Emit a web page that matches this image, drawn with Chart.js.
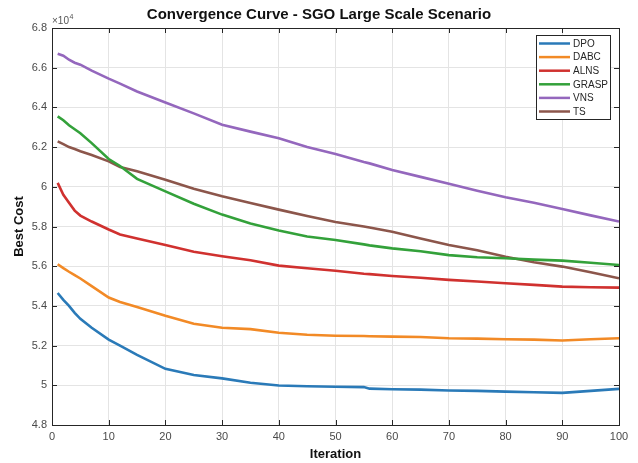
<!DOCTYPE html>
<html>
<head>
<meta charset="utf-8">
<script src="https://cdn.jsdelivr.net/npm/chart.js@4.4.1/dist/chart.umd.min.js"></script>
<style>
  html, body { margin: 0; padding: 0; background: #fff; }
  #wrap { width: 638px; height: 463px; }
</style>
</head>
<body>
<div id="wrap"><canvas id="conv" width="638" height="463"></canvas></div>
<script>
// iterations sampled along the convergence run
const iterations = [1, 2, 3, 4, 5, 7, 10, 12, 15, 20, 25, 30, 35, 40, 45, 50, 55, 56, 60, 65, 70, 75, 80, 85, 90, 95, 100];

// best cost per algorithm at the iterations above
const dpoCost   = [54650, 54300, 54000, 53650, 53350, 52900, 52300, 52000, 51530, 50830, 50520, 50350, 50130, 49990, 49950, 49930, 49910, 49830, 49800, 49780, 49740, 49720, 49680, 49650, 49620, 49720, 49820];
const dabcCost  = [56100, 55900, 55720, 55550, 55380, 55000, 54420, 54200, 53950, 53500, 53100, 52900, 52830, 52650, 52550, 52500, 52480, 52470, 52450, 52430, 52370, 52350, 52320, 52300, 52260, 52320, 52370];
const alnsCost  = [60200, 59600, 59200, 58800, 58550, 58250, 57850, 57600, 57400, 57070, 56730, 56500, 56300, 56030, 55900, 55770, 55620, 55600, 55510, 55420, 55310, 55230, 55140, 55060, 54970, 54940, 54920];
const graspCost = [63550, 63350, 63100, 62900, 62700, 62200, 61400, 61050, 60400, 59770, 59150, 58600, 58150, 57800, 57500, 57320, 57100, 57050, 56900, 56750, 56560, 56450, 56400, 56330, 56280, 56170, 56060];
const vnsCost   = [66700, 66600, 66400, 66250, 66150, 65850, 65450, 65200, 64800, 64250, 63700, 63130, 62780, 62450, 62000, 61650, 61250, 61180, 60850, 60500, 60150, 59800, 59470, 59200, 58880, 58560, 58250];
const tsCost    = [62290, 62150, 62000, 61900, 61790, 61600, 61280, 61000, 60780, 60360, 59900, 59520, 59180, 58850, 58530, 58230, 58000, 57950, 57740, 57400, 57070, 56800, 56480, 56200, 55980, 55700, 55390];

const seriesNames  = ['DPO', 'DABC', 'ALNS', 'GRASP', 'VNS', 'TS'];
const seriesValues = [dpoCost, dabcCost, alnsCost, graspCost, vnsCost, tsCost];
const seriesColors = ['#2a7ab8', '#f28a26', '#d0312f', '#33a13a', '#9467bd', '#8c564b'];

const FONT = '"Liberation Sans", Arial, Helvetica, sans-serif';
const AXIS_DARK = '#262626';

// MATLAB-like box, inward tick marks, exponent label and in-axes legend
const matlabAxes = {
  id: 'matlabAxes',
  afterDraw(chart) {
    const ctx = chart.ctx;
    const { left, right, top, bottom } = chart.chartArea;
    const xs = chart.scales.x, ys = chart.scales.y;
    const tl = 5;
    ctx.save();
    ctx.strokeStyle = AXIS_DARK;
    ctx.lineWidth = 1;
    ctx.beginPath();
    xs.ticks.forEach(t => {
      const px = Math.round(xs.getPixelForValue(t.value)) + 0.5;
      ctx.moveTo(px, bottom); ctx.lineTo(px, bottom - tl);
      ctx.moveTo(px, top); ctx.lineTo(px, top + tl);
    });
    ys.ticks.forEach(t => {
      const py = Math.round(ys.getPixelForValue(t.value)) + 0.5;
      ctx.moveTo(left, py); ctx.lineTo(left + tl, py);
      ctx.moveTo(right, py); ctx.lineTo(right - tl, py);
    });
    ctx.stroke();
    ctx.strokeRect(Math.round(left) + 0.5, Math.round(top) + 0.5, Math.round(right - left), Math.round(bottom - top));

    // exponent of the y axis
    ctx.fillStyle = '#555';
    ctx.textBaseline = 'alphabetic';
    ctx.textAlign = 'left';
    ctx.font = '10px ' + FONT;
    ctx.fillText('\u00d710', left, top - 4);
    const w = ctx.measureText('\u00d710').width;
    ctx.font = '7px ' + FONT;
    ctx.fillText('4', left + w + 0.5, top - 9);

    // legend box in the upper right corner
    const bx = 536, by = 35, bw = 74, bh = 84;
    ctx.fillStyle = '#fff';
    ctx.fillRect(bx, by, bw, bh);
    ctx.strokeStyle = AXIS_DARK;
    ctx.lineWidth = 1;
    ctx.strokeRect(bx + 0.5, by + 0.5, bw, bh);
    ctx.font = '10px ' + FONT;
    ctx.textBaseline = 'middle';
    chart.data.datasets.forEach((ds, i) => {
      const ry = by + 8.5 + i * 13.6;
      ctx.strokeStyle = ds.borderColor;
      ctx.lineWidth = 2.5;
      ctx.beginPath();
      ctx.moveTo(bx + 3, ry); ctx.lineTo(bx + 34, ry);
      ctx.stroke();
      ctx.fillStyle = AXIS_DARK;
      ctx.fillText(ds.label, bx + 37, ry + 0.5);
    });
    ctx.restore();
  }
};

new Chart(document.getElementById('conv'), {
  type: 'line',
  data: {
    datasets: seriesNames.map((name, i) => ({
      label: name,
      data: iterations.map((it, k) => ({ x: it, y: seriesValues[i][k] })),
      borderColor: seriesColors[i],
      backgroundColor: seriesColors[i],
      borderWidth: 2.6,
      pointRadius: 0,
      tension: 0,
      fill: false
    }))
  },
  options: {
    responsive: false,
    animation: false,
    layout: { padding: 0 },
    plugins: {
      legend: { display: false },
      tooltip: { enabled: false },
      title: {
        display: true,
        text: 'Convergence Curve - SGO Large Scale Scenario',
        color: '#111',
        font: { family: FONT, size: 15, weight: 'bold' },
        padding: { top: 6, bottom: 4 }
      }
    },
    scales: {
      x: {
        type: 'linear',
        min: 0,
        max: 100,
        ticks: { stepSize: 10, color: '#4a4a4a', padding: 5, font: { family: FONT, size: 11 } },
        grid: { color: '#e4e4e4', drawTicks: false },
        border: { display: false },
        title: {
          display: true,
          text: 'Iteration',
          color: '#111',
          font: { family: FONT, size: 13, weight: 'bold' },
          padding: { top: 0, bottom: 1 }
        },
        afterFit(scale) { scale.height = 38; }
      },
      y: {
        min: 48000,
        max: 68000,
        ticks: {
          stepSize: 2000,
          color: '#4a4a4a',
          padding: 5,
          font: { family: FONT, size: 11 },
          callback: v => parseFloat((v / 1e4).toFixed(1)).toString()
        },
        grid: { color: '#e4e4e4', drawTicks: false },
        border: { display: false },
        title: {
          display: true,
          text: 'Best Cost',
          color: '#111',
          font: { family: FONT, size: 13, weight: 'bold' },
          padding: { top: 12, bottom: 0 }
        },
        afterFit(scale) { scale.width = 52; }
      },
      // empty margin on the right so the plot box ends where the title is centred
      yMargin: {
        position: 'right',
        min: 0,
        max: 1,
        ticks: { display: false },
        grid: { display: false },
        border: { display: false },
        afterFit(scale) { scale.width = 19; }
      }
    }
  },
  plugins: [matlabAxes]
});
</script>
</body>
</html>
